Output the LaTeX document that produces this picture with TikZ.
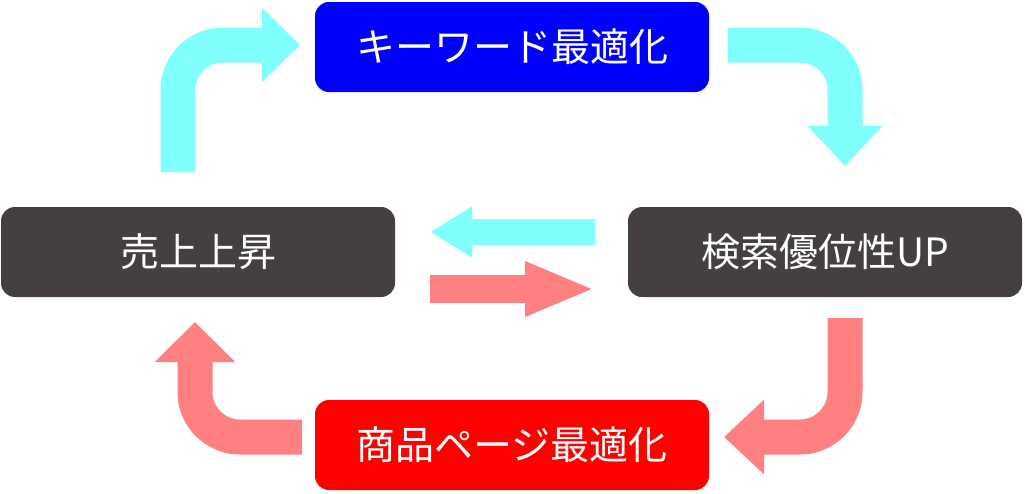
\documentclass[tikz,border=0pt]{standalone}
\usepackage{fontspec}
\newfontfamily\cjk{Noto Sans CJK JP}
\usetikzlibrary{arrows.meta}
\definecolor{darkbox}{RGB}{68,64,63}
\definecolor{lcyan}{RGB}{128,255,255}
\definecolor{lpink}{RGB}{255,128,128}
\begin{document}
\begin{tikzpicture}[x=1pt, y=-1pt]
\tikzstyle{box}=[rectangle, rounded corners=14pt, minimum width=394pt, minimum height=90pt, text=white, font=\cjk\fontsize{39}{44}\selectfont]
\tikzstyle{bendarrow}=[line width=35pt, rounded corners=45pt]
\useasboundingbox (0,0) rectangle (1025,493);

\node[box, fill=blue] (G0x0) at (512,47) {キーワード最適化};
\node[box, fill=darkbox] (G1x0) at (198,252) {売上上昇};
\node[box, fill=darkbox] (G1x1) at (825,252) {検索優位性UP};
\node[box, fill=red] (G2x0) at (512,445) {商品ページ最適化};

\coordinate (C0) at (178,172);
\coordinate (C1) at (300,45);
\coordinate (C2) at (728,45);
\coordinate (C3) at (845,166);
\coordinate (C4) at (845,318);
\coordinate (C5) at (724,437);
\coordinate (C6) at (302,437);
\coordinate (C7) at (195,322);
\draw[bendarrow, lcyan, -{Triangle[width=72pt,length=38pt]}] (C0) |- (C1);
\draw[bendarrow, lcyan, -{Triangle[width=72pt,length=40pt]}] (C2) -| (C3);
\draw[bendarrow, lpink, -{Triangle[width=72pt,length=40pt]}] (C4) |- (C5);
\draw[bendarrow, lpink, -{Triangle[width=78pt,length=40pt]}] (C6) -| (C7);

\coordinate (M0) at (595,232);
\coordinate (M1) at (430,232);
\coordinate (M2) at (430,289);
\coordinate (M3) at (595,289);
\draw[line width=26pt, lcyan, -{Triangle[width=48pt,length=42pt]}] (M0) -- (M1);
\draw[line width=28pt, lpink, -{Triangle[width=50pt,length=70pt]}] (M2) -- (M3);
\end{tikzpicture}
\end{document}
